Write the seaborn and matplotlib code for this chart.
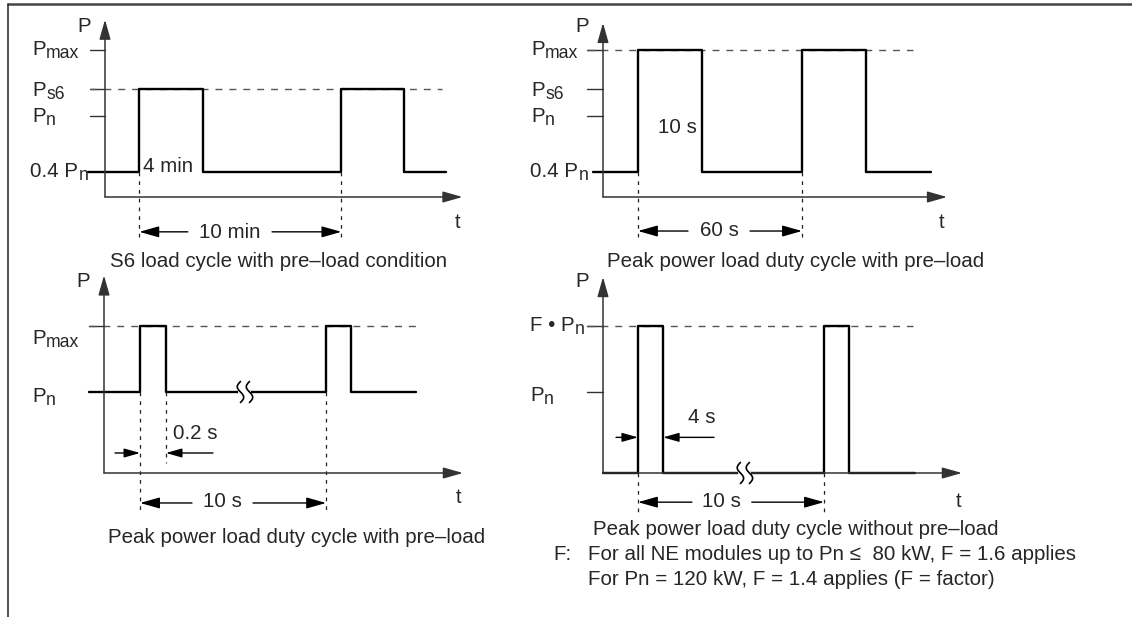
import numpy as np
import matplotlib.pyplot as plt
import seaborn as sns
from matplotlib.lines import Line2D

# --- style ---
sns.set_theme(style="white")
plt.rcParams['font.family'] = ['Liberation Sans', 'DejaVu Sans']

W, H = 1132, 617
FS = 14.8

# --- data (schematic: t along the time axis, P in units of the Pn height) ---
# S6 load cycle, t in min
s6_t = [-0.85, 1.7, 4.85, 11.7, 14.8, 16.9]
s6_p = [0.31, 1.33, 0.31, 1.33, 0.31, 0.31]
s6_levels = [1.81, 1.33, 1.0]

# peak power with pre-load (60 s), t in s
pk60_t = [-3.7, 12.8, 36.2, 72.8, 96.2, 120.0]
pk60_p = [0.31, 1.81, 0.31, 1.81, 0.31, 0.31]
pk60_levels = [1.81, 1.33, 1.0]

# peak power with pre-load (10 s / 0.2 s)
pk10_t = [-0.81, 1.94, 3.33, 11.94, 13.28, 16.77]
pk10_p = [1.0, 1.81, 1.0, 1.81, 1.0, 1.0]

# peak power without pre-load (10 s / 4 s)
nopre_t = [0.0, 1.88, 3.23, 11.88, 13.23, 16.8]
nopre_p = [0.0, 1.81, 0.0, 1.81, 0.0, 0.0]

AX_COL = '#333333'
DASH_COL = '#555555'


def panel(fig, ox, oy, sx, sy):
    # full-figure axes whose origin sits at pixel (ox, oy), sx/sy px per unit
    ax = fig.add_axes([0, 0, 1, 1])
    ax.set_xlim(-ox / sx, (W - ox) / sx)
    ax.set_ylim((oy - H) / sy, oy / sy)
    ax.axis('off')
    ax.patch.set_alpha(0)
    return ax


def arrow(ax, x0, y0, x1, y1=None, scale=20, lw=1.0, color='black'):
    if y1 is None:
        y1 = y0
    ax.annotate('', xy=(x1, y1), xytext=(x0, y0),
                arrowprops=dict(arrowstyle='-|>,head_length=0.6,head_width=0.17',
                                mutation_scale=scale, color=color, lw=lw,
                                shrinkA=0, shrinkB=0))


def axes_arrows(ax, x_end, y_end):
    arrow(ax, 0, 0, x_end, 0, color=AX_COL, lw=1.1)
    arrow(ax, 0, 0, 0, y_end, color=AX_COL, lw=1.1)


def label(ax, x, y, main, sub=None):
    t = ax.text(x, y, main, fontsize=FS, va='baseline', ha='left')
    if sub:
        ax.annotate(sub, xy=(1, 0), xycoords=t, xytext=(0.3, 0.6),
                    textcoords='offset points', fontsize=FS * 0.86,
                    va='baseline', ha='left')
    return t


def hdash(ax, x0, x1, y):
    ax.plot([x0, x1], [y, y], color=DASH_COL, lw=1.0, dashes=(5, 5))


def vdash(ax, x, y0, y1):
    ax.plot([x, x], [y0, y1], color='#222222', lw=0.9, dashes=(3, 4))


def tick(ax, x0, y):
    ax.plot([x0, 0], [y, y], color=AX_COL, lw=1.0)


def dim(ax, y, x_left, x_right, x_a, x_b, text, ty):
    # dimension line "<-- text -->" between x_left and x_right
    arrow(ax, x_a, y, x_left)
    arrow(ax, x_b, y, x_right)
    ax.text((x_a + x_b) / 2, ty, text, fontsize=FS, ha='center', va='baseline')


def arrow_pair(ax, y, x_left, x_right, a0, b0):
    arrow(ax, a0, y, x_left, scale=16)
    arrow(ax, b0, y, x_right, scale=16)


def break_mark(ax, xc, y, sx, sy):
    s = np.linspace(-1, 1, 50)
    ax.plot([xc - 4.5 / sx, xc + 4.5 / sx], [y, y], color='white', lw=3, zorder=4)
    for off in (-4.5, 4.5):
        xx = xc + (off - 3.2 * np.sin(np.pi * s)) / sx
        yy = y + 10.5 * s / sy
        ax.plot(xx, yy, color='black', lw=1.2, zorder=5)


def wave(ax, t, p):
    sns.lineplot(x=t, y=p, ax=ax, drawstyle='steps-post', color='black',
                 lw=1.7, sort=False, estimator=None, legend=False)
    ax.axis('off')


fig = plt.figure(figsize=(W / 100, H / 100), dpi=100)

# ---------- panel 1: S6 ----------
ax1 = panel(fig, 105, 197, 20.2, 81)
axes_arrows(ax1, 17.7, 2.19)
for lv in s6_levels:
    tick(ax1, -0.74, lv)
hdash(ax1, -0.74, 16.7, 1.33)
wave(ax1, s6_t, s6_p)
label(ax1, -1.39, 2.04, 'P')
label(ax1, -3.61, 1.75, 'P', 'max')
label(ax1, -3.61, 1.25, 'P', 's6')
label(ax1, -3.61, 0.93, 'P', 'n')
label(ax1, -3.71, 0.25, '0.4 P', 'n')
label(ax1, 17.33, -0.38, 't')
label(ax1, 1.88, 0.31, '4 min')
vdash(ax1, 1.7, 0.31, -0.53)
vdash(ax1, 11.7, 0.31, -0.53)
dim(ax1, -0.43, 1.7, 11.7, 4.1, 8.27, '10 min', -0.51)

# ---------- panel 2: peak power 60 s ----------
ax2 = panel(fig, 603, 197, 2.733, 81)
axes_arrows(ax2, 125.9, 2.15)
for lv in pk60_levels:
    tick(ax2, -5.85, lv)
hdash(ax2, -5.85, 113.4, 1.81)
wave(ax2, pk60_t, pk60_p)
label(ax2, -10.2, 2.04, 'P')
label(ax2, -26.3, 1.75, 'P', 'max')
label(ax2, -26.3, 1.25, 'P', 's6')
label(ax2, -26.3, 0.93, 'P', 'n')
label(ax2, -26.7, 0.25, '0.4 P', 'n')
label(ax2, 122.9, -0.38, 't')
label(ax2, 20.1, 0.79, '10 s')
vdash(ax2, 12.8, 0.31, -0.50)
vdash(ax2, 72.8, 0.31, -0.50)
dim(ax2, -0.42, 12.8, 72.8, 31.1, 53.8, '60 s', -0.48)

# ---------- panel 3: peak power 10 s / 0.2 s ----------
ax3 = panel(fig, 104, 473, 18.6, 81)
axes_arrows(ax3, 19.3, 2.44)
tick(ax3, -0.81, 1.81)
hdash(ax3, -0.81, 16.77, 1.81)
wave(ax3, pk10_t, pk10_p)
break_mark(ax3, 7.58, 1.0, 18.6, 81)
label(ax3, -1.5, 2.30, 'P')
label(ax3, -3.87, 1.59, 'P', 'max')
label(ax3, -3.87, 0.88, 'P', 'n')
label(ax3, 18.9, -0.37, 't')
label(ax3, 3.71, 0.42, '0.2 s')
vdash(ax3, 1.94, 1.0, -0.46)
vdash(ax3, 3.33, 1.0, 0.12)
vdash(ax3, 11.94, 1.0, -0.46)
arrow_pair(ax3, 0.247, 1.94, 3.33, 0.59, 5.86)
dim(ax3, -0.37, 1.94, 11.94, 4.73, 8.01, '10 s', -0.42)

# ---------- panel 4: peak power without pre-load ----------
ax4 = panel(fig, 603, 473, 18.6, 81)
axes_arrows(ax4, 19.3, 2.42)
tick(ax4, -0.86, 1.81)
tick(ax4, -0.86, 1.0)
hdash(ax4, -0.86, 16.67, 1.81)
wave(ax4, nopre_t, nopre_p)
break_mark(ax4, 7.63, 0.0, 18.6, 81)
label(ax4, -1.5, 2.30, 'P')
label(ax4, -3.92, 1.75, 'F \u2022 P', 'n')
label(ax4, -3.92, 0.89, 'P', 'n')
label(ax4, 18.98, -0.42, 't')
label(ax4, 4.57, 0.62, '4 s')
vdash(ax4, 1.88, 0.0, -0.48)
vdash(ax4, 11.88, 0.0, -0.48)
arrow_pair(ax4, 0.44, 1.88, 3.23, 0.70, 5.97)
dim(ax4, -0.36, 1.88, 11.88, 4.78, 8.0, '10 s', -0.42)


# ---------- captions and notes ----------
def ftext(x, y, s):
    fig.text(x / W, 1 - y / H, s, fontsize=FS, ha='left', va='baseline')


ftext(110, 267, 'S6 load cycle with pre\u2013load condition')
ftext(607, 267, 'Peak power load duty cycle with pre\u2013load')
ftext(108, 543, 'Peak power load duty cycle with pre\u2013load')
ftext(593, 535, 'Peak power load duty cycle without pre\u2013load')
ftext(553, 560, 'F:')
ftext(588, 560, 'For all NE modules up to Pn \u2264  80 kW, F = 1.6 applies')
ftext(588, 585, 'For Pn = 120 kW, F = 1.4 applies (F = factor)')

# frame
fig.add_artist(Line2D([8 / W, 1], [1 - 4 / H, 1 - 4 / H], transform=fig.transFigure,
                      color='#444444', lw=1.8))
fig.add_artist(Line2D([8 / W, 8 / W], [0, 1 - 4 / H], transform=fig.transFigure,
                      color='#222222', lw=1.1))

fig.savefig('out.png', dpi=100)
